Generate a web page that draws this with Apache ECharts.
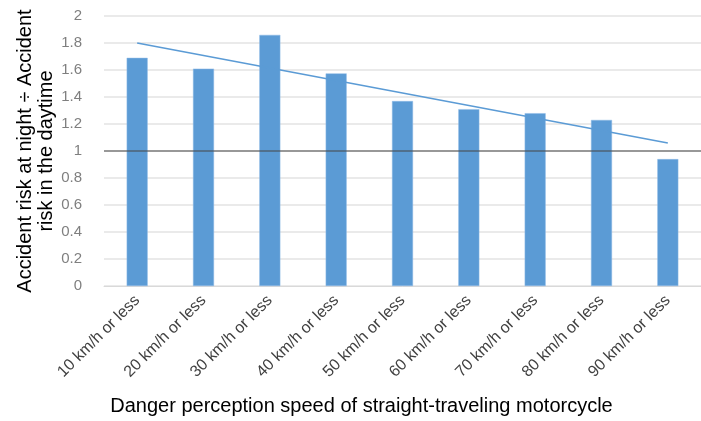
<!DOCTYPE html>
<html lang="en">
<head>
    <meta charset="UTF-8">
    <title>Accident risk ratio</title>
    <style>
        html, body { margin: 0; padding: 0; background: #fff; }
        #chartmain { width: 701px; height: 421px; }
    </style>
</head>
<body>
    <div id="chartmain"></div>
    <script src="https://cdn.jsdelivr.net/npm/echarts@6/dist/echarts.min.js"></script>
    <script type="text/javascript">
        // categories + values
        var categories = ['10 km/h or less', '20 km/h or less', '30 km/h or less', '40 km/h or less',
            '50 km/h or less', '60 km/h or less', '70 km/h or less', '80 km/h or less', '90 km/h or less'];
        var ratios = [1.69, 1.61, 1.86, 1.575, 1.37, 1.31, 1.28, 1.23, 0.94];
        // trend line ends (first / last category)
        var trendEnds = [1.80, 1.06];
        var yTicks = [0, 0.2, 0.4, 0.6, 0.8, 1, 1.2, 1.4, 1.6, 1.8, 2];
        var baseline = 1;

        var myChart = echarts.init(document.getElementById('chartmain'));
        var option = {
            animation: false,
            textStyle: { fontFamily: 'Liberation Sans, Arial, sans-serif' },
            grid: {
                left: 104,
                right: 0,
                top: 16,
                bottom: 135
            },
            xAxis: {
                type: 'category',
                data: categories,
                name: 'Danger perception speed of straight-traveling motorcycle',
                nameLocation: 'middle',
                nameGap: 110,
                nameTextStyle: {
                    fontSize: 20,
                    color: '#000',
                    padding: [0, 82, 0, 0]
                },
                axisTick: { show: false },
                axisLine: { lineStyle: { color: '#d9d9d9', width: 1 } },
                axisLabel: {
                    rotate: 45,
                    fontSize: 16,
                    color: '#404040',
                    margin: 12
                }
            },
            yAxis: {
                type: 'value',
                min: yTicks[0],
                max: yTicks[yTicks.length - 1],
                interval: 0.2,
                name: 'Accident risk at night ÷ Accident\nrisk in the daytime',
                nameLocation: 'middle',
                nameRotate: 90,
                nameGap: 47,
                nameMoveOverlap: false,
                nameTextStyle: {
                    fontSize: 20,
                    color: '#000',
                    lineHeight: 21
                },
                axisLine: { show: false },
                axisTick: { show: false },
                axisLabel: {
                    fontSize: 15,
                    color: '#7f7f7f',
                    margin: 22
                },
                splitLine: { lineStyle: { color: '#e3e3e3', width: 1.5 } }
            },
            series: [{
                name: 'ratio',
                type: 'bar',
                barWidth: 21,
                itemStyle: {
                    color: '#5b9bd5',
                    borderColor: '#8fbbe6',
                    borderWidth: 0.5
                },
                data: ratios,
                markLine: {
                    silent: true,
                    symbol: 'none',
                    label: { show: false },
                    lineStyle: { color: 'rgba(70,70,70,0.5)', width: 2, type: 'solid' },
                    data: [{ yAxis: baseline }],
                    z: 10
                }
            }, {
                name: 'trend',
                type: 'line',
                symbol: 'none',
                z: 5,
                lineStyle: { color: '#5b9bd5', width: 1.5 },
                data: [[0, trendEnds[0]], [categories.length - 1, trendEnds[1]]]
            }]
        };
        myChart.setOption(option);
    </script>
</body>
</html>
